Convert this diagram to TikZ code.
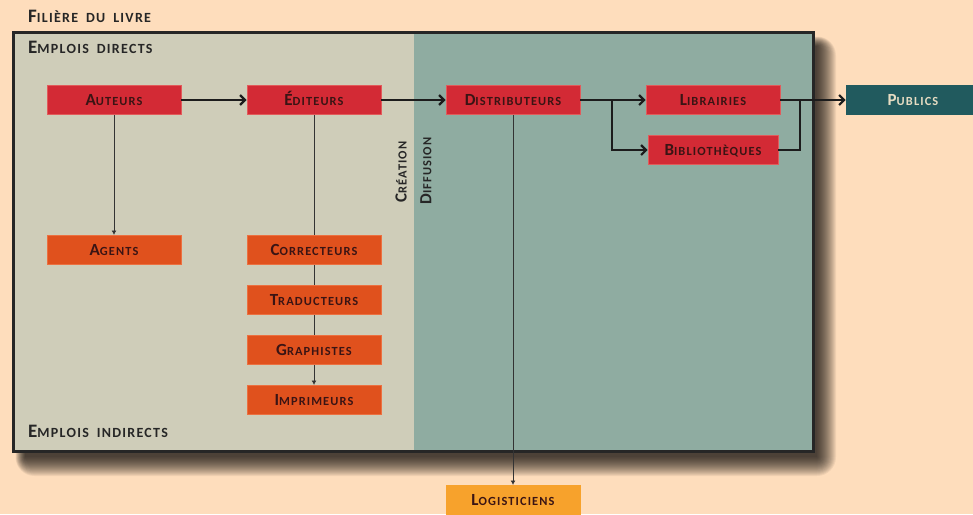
\documentclass[tikz,border=0pt]{standalone}
\usepackage{fontspec}
\setmainfont{Carlito}[LetterSpace=9,WordSpace=1.8]
\usetikzlibrary{arrows.meta}
\definecolor{bg}{HTML}{FEDDBC}
\definecolor{leftfill}{HTML}{CFCDB9}
\definecolor{rightfill}{HTML}{8FACA1}
\definecolor{redbox}{HTML}{D32A35}
\definecolor{rededge}{HTML}{E25A5A}
\definecolor{orangebox}{HTML}{E0511D}
\definecolor{orangeedge}{HTML}{EC7040}
\definecolor{yellowbox}{HTML}{F7A22C}
\definecolor{tealbox}{HTML}{215A5E}
\definecolor{tealtext}{HTML}{E6DCC2}
\definecolor{ink}{HTML}{3A1414}
\definecolor{lineink}{HTML}{1C1C1C}
\newcommand{\fsc}[2]{{\fontsize{17}{18}\selectfont#1}{\fontsize{12.4}{14}\selectfont#2}}
\newcommand{\hsc}[2]{{\fontsize{19}{20}\selectfont#1}{\fontsize{14}{16}\selectfont#2}}
\begin{document}
\begin{tikzpicture}[x=1pt,y=-1pt,
  box/.style={minimum width=134pt,minimum height=29pt,inner sep=0pt,font=\bfseries,text=ink,line width=0.8pt,text height=11pt,text depth=0pt},
  redb/.style={box,fill=redbox,draw=rededge},
  orangeb/.style={box,fill=orangebox,draw=orangeedge},
  yellowb/.style={box,fill=yellowbox,draw=yellowbox},
  tealb/.style={box,fill=tealbox,draw=tealbox,text=tealtext},
  heading/.style={anchor=west,inner sep=0pt,font=\bfseries,text=black!85},
  thick arrow/.style={draw=lineink,line width=2.6pt,-{Straight Barb[length=5pt,width=10pt,line width=2.2pt]}},
  thick line/.style={draw=lineink,line width=2.6pt},
  thin arrow/.style={draw=black!80,line width=1pt,-{Latex[length=4.5pt,width=5pt]}}
]
\useasboundingbox (0,0) rectangle (973,514);
\fill[bg] (0,0) rectangle (973,514);
% hand-made blurred shadow
\foreach \i in {0,...,19}{
  \fill[black,opacity=0.055,rounded corners=\i pt] (13+12-0.5*\i,32+14-0.5*\i) rectangle (813+4+\i,451+6+\i);
}
\fill[leftfill] (13,32) rectangle (414,451);
\fill[rightfill] (414,32) rectangle (813,451);
\draw[line width=3pt,draw=black!85] (13,32) rectangle (813,451);

% headings
\node[heading] (titre) at (28,16) {\hsc{F}{ILIÈRE DU LIVRE}};
\node[heading] (directs) at (28,47) {\hsc{E}{MPLOIS DIRECTS}};
\node[heading] (indirects) at (28,431) {\hsc{E}{MPLOIS INDIRECTS}};
\node[rotate=90,inner sep=0pt,font=\bfseries,text=black!85] (creation) at (401,172) {\fsc{C}{RÉATION}};
\node[rotate=90,inner sep=0pt,font=\bfseries,text=black!85] (diffusion) at (426,171) {\fsc{D}{IFFUSION}};

% thin connectors (behind boxes)
\coordinate (aut) at (114,114);
\coordinate (edi) at (314,114);
\coordinate (dis) at (513,114);
\draw[thin arrow] (aut) -- (114,235);
\draw[thin arrow] (edi) -- (314,385);
\draw[thin arrow] (dis) -- (513,485);

% boxes
\node[redb] (auteurs) at (114,100) {\fsc{A}{UTEURS}};
\node[redb] (editeurs) at (314,100) {\fsc{É}{DITEURS}};
\node[redb] (distributeurs) at (513,100) {\fsc{D}{ISTRIBUTEURS}};
\node[redb] (librairies) at (713,100) {\fsc{L}{IBRAIRIES}};
\node[redb,minimum width=130pt] (bibliotheques) at (713,150) {\fsc{B}{IBLIOTHÈQUES}};
\node[tealb] (publics) at (913,100) {\fsc{P}{UBLICS}};
\node[orangeb] (agents) at (114,250) {\fsc{A}{GENTS}};
\node[orangeb] (correcteurs) at (314,250) {\fsc{C}{ORRECTEURS}};
\node[orangeb] (traducteurs) at (314,300) {\fsc{T}{RADUCTEURS}};
\node[orangeb] (graphistes) at (314,350) {\fsc{G}{RAPHISTES}};
\node[orangeb] (imprimeurs) at (314,400) {\fsc{I}{MPRIMEURS}};
\node[yellowb] (logisticiens) at (513,500) {\fsc{L}{OGISTICIENS}};

% thick connectors
\draw[thick arrow] (auteurs) -- (editeurs);
\draw[thick arrow] (editeurs) -- (distributeurs);
\draw[thick arrow] (distributeurs) -- (librairies);
\coordinate (split) at (612,100);
\draw[thick arrow] (split) |- (bibliotheques);
\draw[thick arrow] (librairies) -- (publics);
\coordinate (join) at (800,100);
\draw[thick line] (bibliotheques.east) -| (join);
\end{tikzpicture}
\end{document}
